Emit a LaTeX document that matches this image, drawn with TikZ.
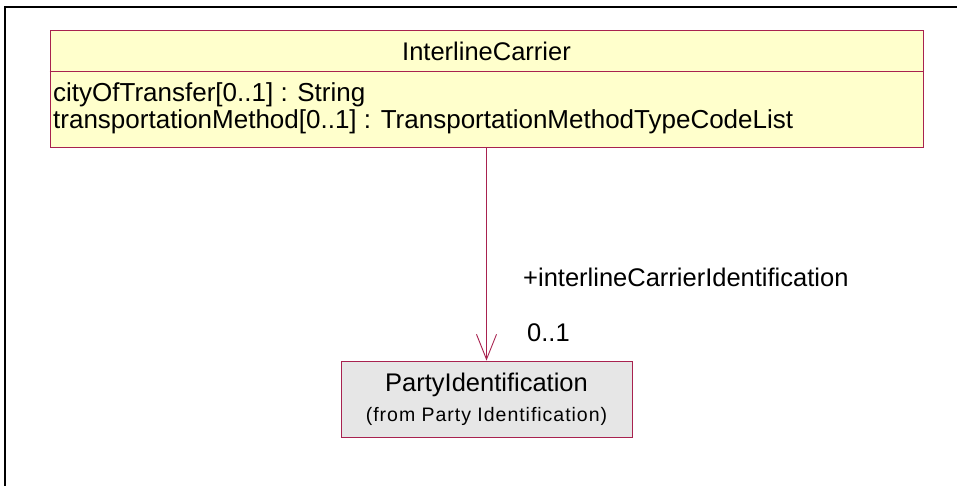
\documentclass[tikz,border=0pt]{standalone}
\usepackage{fontspec}
\setmainfont{Liberation Sans}
\usetikzlibrary{arrows.meta,positioning,calc}
\definecolor{roseline}{HTML}{A8224F}
\definecolor{roseyellow}{HTML}{FFFFCC}
\definecolor{rosegrey}{HTML}{E6E6E6}
\newcommand{\fromfont}{\fontsize{19.5}{22}\selectfont\addfontfeatures{LetterSpace=5}}

\begin{document}
\begin{tikzpicture}[
  x=1pt, y=1pt,
  >={Straight Barb[length=25pt,width=20pt]},
  % Styles
  classbox/.style={draw=roseline, fill=roseyellow, line width=0.9pt, inner sep=0pt},
  refbox/.style={draw=roseline, fill=rosegrey, line width=0.9pt, align=center,
    inner sep=0pt, minimum width=291pt, minimum height=76pt,
    font=\fontsize{25.5}{30}\selectfont},
  bigtext/.style={font=\fontsize{25.5}{25}\selectfont, inner sep=0pt},
  assoc/.style={->, draw=roseline, line width=0.9pt},
  frame/.style={draw=black, line width=2pt},
]
\useasboundingbox (0,0) rectangle (957,-485);

% === Page frame ===
\draw[frame] (5,-600) -- (5,-7) -- (1100,-7);

% === Classes ===
\node[classbox, minimum width=873pt, minimum height=117pt] (carrier) at (486.5,-88.5) {};
\node[bigtext] (title) at (486.5,-51) {InterlineCarrier};
\draw[draw=roseline, line width=0.9pt] ($(carrier.north west)+(0,-42)$) -- ($(carrier.north east)+(0,-42)$);
\node[bigtext, font=\fontsize{26}{27}\selectfont, align=left, anchor=north west] (attrs) at (53,-82) {
  cityOfTransfer[0..1] : String\\
  transportationMethod[0..1] : TransportationMethodTypeCodeList
};

\node[refbox] (party) at (486.5,-399) {
  PartyIdentification\\
  {\fromfont (from Party Identification)}
};

% === Association ===
\draw[assoc] (carrier) -- (party);
\node[bigtext, anchor=west] (role) at (523,-277) {+interlineCarrierIdentification};
\node[bigtext, anchor=west] (mult) at (527,-333) {0..1};

\end{tikzpicture}
\end{document}
